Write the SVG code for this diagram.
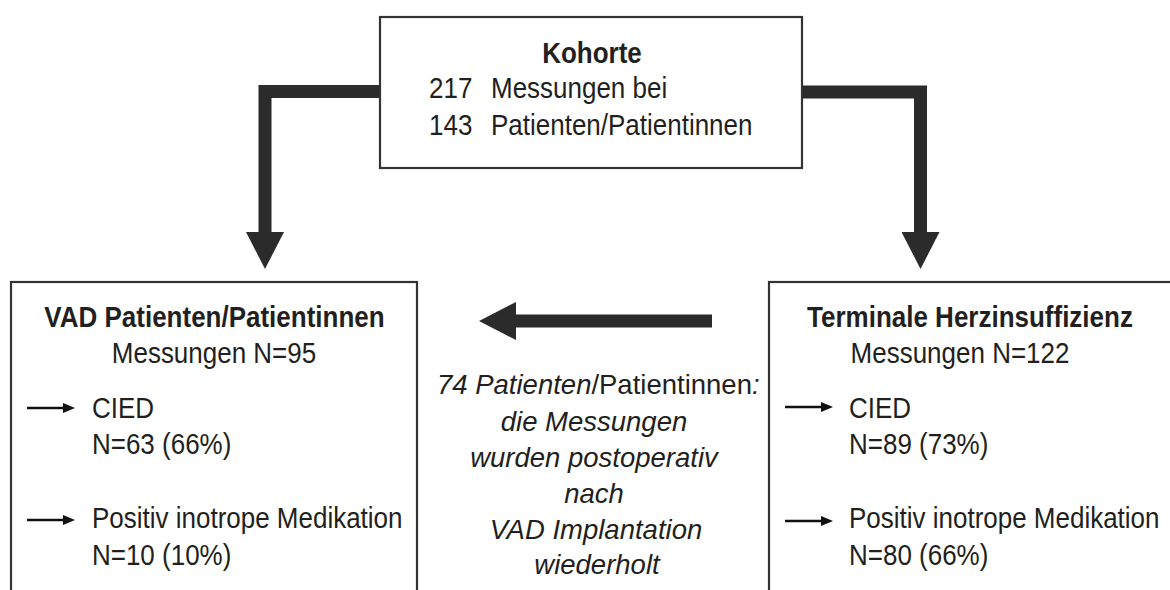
<svg xmlns="http://www.w3.org/2000/svg" width="1170" height="590" viewBox="0 0 1170 590">
<style>
.box{fill:#fff;stroke:#333;stroke-width:2.2}
.t{font-family:"Liberation Sans",Arial,sans-serif;font-size:26px;fill:#231f20}
.b{font-weight:bold}
.c{text-anchor:middle}
.i{font-style:italic;font-size:27.5px}
.n{font-style:normal;font-size:27.5px}
.thick{fill:none;stroke:#2b2b2b;stroke-width:13;stroke-linejoin:miter}
.thin{fill:none;stroke:#111;stroke-width:2.6}
</style>
<defs>
<marker id="big" markerUnits="userSpaceOnUse" markerWidth="37" markerHeight="38" refX="0" refY="19" orient="auto">
<path d="M0,0 L37,19 L0,38 Z" fill="#2b2b2b"/>
</marker>
<marker id="small" markerUnits="userSpaceOnUse" markerWidth="12" markerHeight="10" refX="0" refY="5" orient="auto">
<path d="M0,0 L12,5 L0,10 Z" fill="#111"/>
</marker>
</defs>
<rect width="1170" height="590" fill="#fff"/>

<g id="connectors">
<polyline class="thick" points="381,91.5 265,91.5 265,232" marker-end="url(#big)"/>
<polyline class="thick" points="801,92 920.5,92 920.5,232" marker-end="url(#big)"/>
<line class="thick" x1="712" y1="321" x2="516" y2="321" stroke-width="12" marker-end="url(#big)"/>
</g>

<g id="kohorte">
<rect class="box" x="380" y="17" width="422" height="151"/>
<text class="t b c" transform="translate(0,63) scale(1,1.12)" x="592" y="0">Kohorte</text>
<text class="t" transform="translate(0,98) scale(1,1.15)" x="429" y="0">217</text>
<text class="t" transform="translate(0,98) scale(1,1.15)" x="491" y="0">Messungen bei</text>
<text class="t" transform="translate(0,135) scale(1,1.15)" x="429" y="0">143</text>
<text class="t" transform="translate(0,135) scale(1,1.15)" x="491" y="0">Patienten/Patientinnen</text>
</g>

<g id="vad">
<rect class="box" x="11" y="282" width="406" height="330"/>
<text class="t b c" transform="translate(0,327) scale(1,1.15)" x="214.5" y="0">VAD Patienten/Patientinnen</text>
<text class="t c" transform="translate(0,363) scale(1,1.15)" x="214" y="0">Messungen N=95</text>
<line class="thin" x1="27" y1="408" x2="63" y2="408" marker-end="url(#small)"/>
<text class="t" transform="translate(0,418) scale(1,1.15)" x="92" y="0">CIED</text>
<text class="t" transform="translate(0,454) scale(1,1.15)" x="92" y="0">N=63 (66%)</text>
<line class="thin" x1="27" y1="520" x2="63" y2="520" marker-end="url(#small)"/>
<text class="t" transform="translate(0,528) scale(1,1.15)" x="92" y="0">Positiv inotrope Medikation</text>
<text class="t" transform="translate(0,565) scale(1,1.15)" x="92" y="0">N=10 (10%)</text>
</g>

<g id="terminal">
<rect class="box" x="769" y="282" width="412" height="330"/>
<text class="t b c" transform="translate(0,327) scale(1,1.15)" x="970" y="0">Terminale Herzinsuffizienz</text>
<text class="t c" transform="translate(0,363) scale(1,1.15)" x="960" y="0">Messungen N=122</text>
<line class="thin" x1="785" y1="407" x2="821" y2="407" marker-end="url(#small)"/>
<text class="t" transform="translate(0,418) scale(1,1.15)" x="849" y="0">CIED</text>
<text class="t" transform="translate(0,454) scale(1,1.15)" x="849" y="0">N=89 (73%)</text>
<line class="thin" x1="785" y1="521" x2="821" y2="521" marker-end="url(#small)"/>
<text class="t" transform="translate(0,528) scale(1,1.15)" x="849" y="0">Positiv inotrope Medikation</text>
<text class="t" transform="translate(0,565) scale(1,1.15)" x="849" y="0">N=80 (66%)</text>
</g>

<g id="note">
<text class="t i" x="437" y="394">74 Patienten</text>
<text class="t n" x="591.4" y="394">/Patientinnen</text>
<text class="t i" x="751.9" y="394">:</text>
<text class="t i c" x="594" y="431">die Messungen</text>
<text class="t i c" x="594" y="467">wurden postoperativ</text>
<text class="t i c" x="594" y="503">nach</text>
<text class="t i c" x="596" y="539">VAD Implantation</text>
<text class="t i c" x="597" y="574">wiederholt</text>
</g>
</svg>
